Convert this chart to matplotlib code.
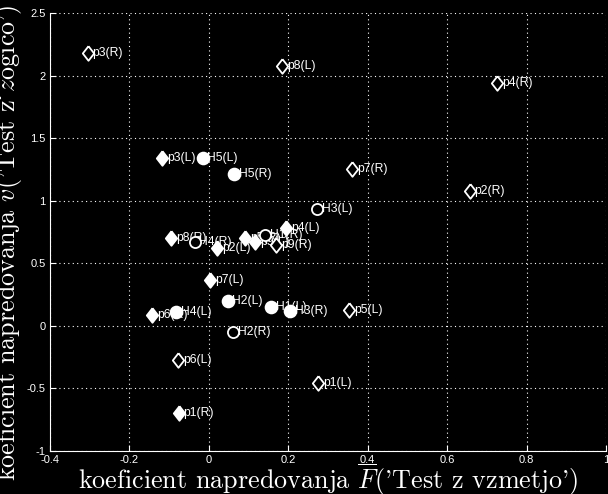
import numpy as np
import matplotlib
matplotlib.use("Agg")
import matplotlib.pyplot as plt

plt.rcParams['axes.unicode_minus'] = False
plt.rcParams['mathtext.fontset'] = 'cm'

# filled diamonds
pf_names = ['p3(L)', 'p8(R)', 'p4(L)', 'p2(L)', 'p5(R)', 'p9(L)', 'p7(L)', 'p6(R)', 'p1(R)']
pf_x = [-0.118, -0.095, 0.194, 0.020, 0.092, 0.117, 0.004, -0.143, -0.076]
pf_v = [1.34, 0.70, 0.78, 0.62, 0.70, 0.67, 0.37, 0.09, -0.70]

# hollow diamonds
ph_names = ['p3(R)', 'p8(L)', 'p4(R)', 'p7(R)', 'p2(R)', 'p9(R)', 'p5(L)', 'p6(L)', 'p1(L)']
ph_x = [-0.305, 0.185, 0.726, 0.361, 0.657, 0.170, 0.353, -0.078, 0.275]
ph_v = [2.18, 2.08, 1.94, 1.25, 1.08, 0.65, 0.13, -0.27, -0.46]

# filled circles
hf_names = ['H5(L)', 'H5(R)', 'H2(L)', 'H1(L)', 'H3(R)', 'H4(L)']
hf_x = [-0.016, 0.064, 0.047, 0.156, 0.205, -0.082]
hf_v = [1.34, 1.21, 0.20, 0.15, 0.12, 0.11]

# hollow circles
hh_names = ['H3(L)', 'H4(R)', 'H1(R)', 'H2(R)']
hh_x = [0.273, -0.036, 0.142, 0.062]
hh_v = [0.93, 0.67, 0.73, -0.05]

xticks = [-0.4, -0.2, 0, 0.2, 0.4, 0.6, 0.8, 1]
yticks = [-1, -0.5, 0, 0.5, 1, 1.5, 2, 2.5]

fig = plt.figure(figsize=(6.08, 4.94), dpi=100, facecolor='black')
ax = fig.add_axes([50/608, 43/494, 556/608, 438/494])
ax.set_facecolor('black')

diamond = [(0, 1), (0.78, 0), (0, -1), (-0.78, 0), (0, 1)]

groups = [
    (pf_names, pf_x, pf_v, diamond, 'white', 10.5),
    (ph_names, ph_x, ph_v, diamond, 'black', 10.5),
    (hf_names, hf_x, hf_v, 'o', 'white', 8.5),
    (hh_names, hh_x, hh_v, 'o', 'black', 8.0),
]

for names, xs, vs, mk, face, ms in groups:
    for n, x, v in zip(names, xs, vs):
        ax.annotate(n, (x, v), xytext=(3.5, 0), textcoords='offset points',
                    va='center', ha='left', color='white', fontsize=8.7,
                    family='Liberation Sans', zorder=3)

for names, xs, vs, mk, face, ms in groups:
    ax.plot(xs, vs, linestyle='none', marker=mk, markersize=ms,
            markerfacecolor=face, markeredgecolor='white', markeredgewidth=1.3,
            zorder=4)

ax.set_xlim(-0.4, 1)
ax.set_ylim(-1, 2.5)
ax.set_xticks(xticks)
ax.set_yticks(yticks)
ax.set_xticklabels(['%g' % t for t in xticks], family='Liberation Sans', fontsize=8)
ax.set_yticklabels(['%g' % t for t in yticks], family='Liberation Sans', fontsize=8)
ax.tick_params(colors='white', direction='in', length=4, width=0.8, pad=3)

ax.grid(True, color='white', linestyle=(0, (1, 3)), linewidth=0.8)
ax.set_axisbelow(True)

for s in ['top', 'right']:
    ax.spines[s].set_visible(False)
for s in ['left', 'bottom']:
    ax.spines[s].set_color('white')
    ax.spines[s].set_linewidth(0.8)

ax.set_xlabel(r"koeficient napredovanja $\overline{F}$('Test z vzmetjo')",
              family='cmr10', fontsize=18.8, color='white')
ax.set_ylabel(r"koeficient napredovanja $\overline{v}$('Test z $\check{z}$ogico')",
              family='cmr10', fontsize=18.8, color='white')
ax.xaxis.set_label_coords(0.5, -0.024)
ax.xaxis.label.set_va('top')
ax.yaxis.set_label_coords(-0.046, 0.475)
ax.yaxis.label.set_va('bottom')

fig.savefig('out.png', dpi=100, facecolor='black')
